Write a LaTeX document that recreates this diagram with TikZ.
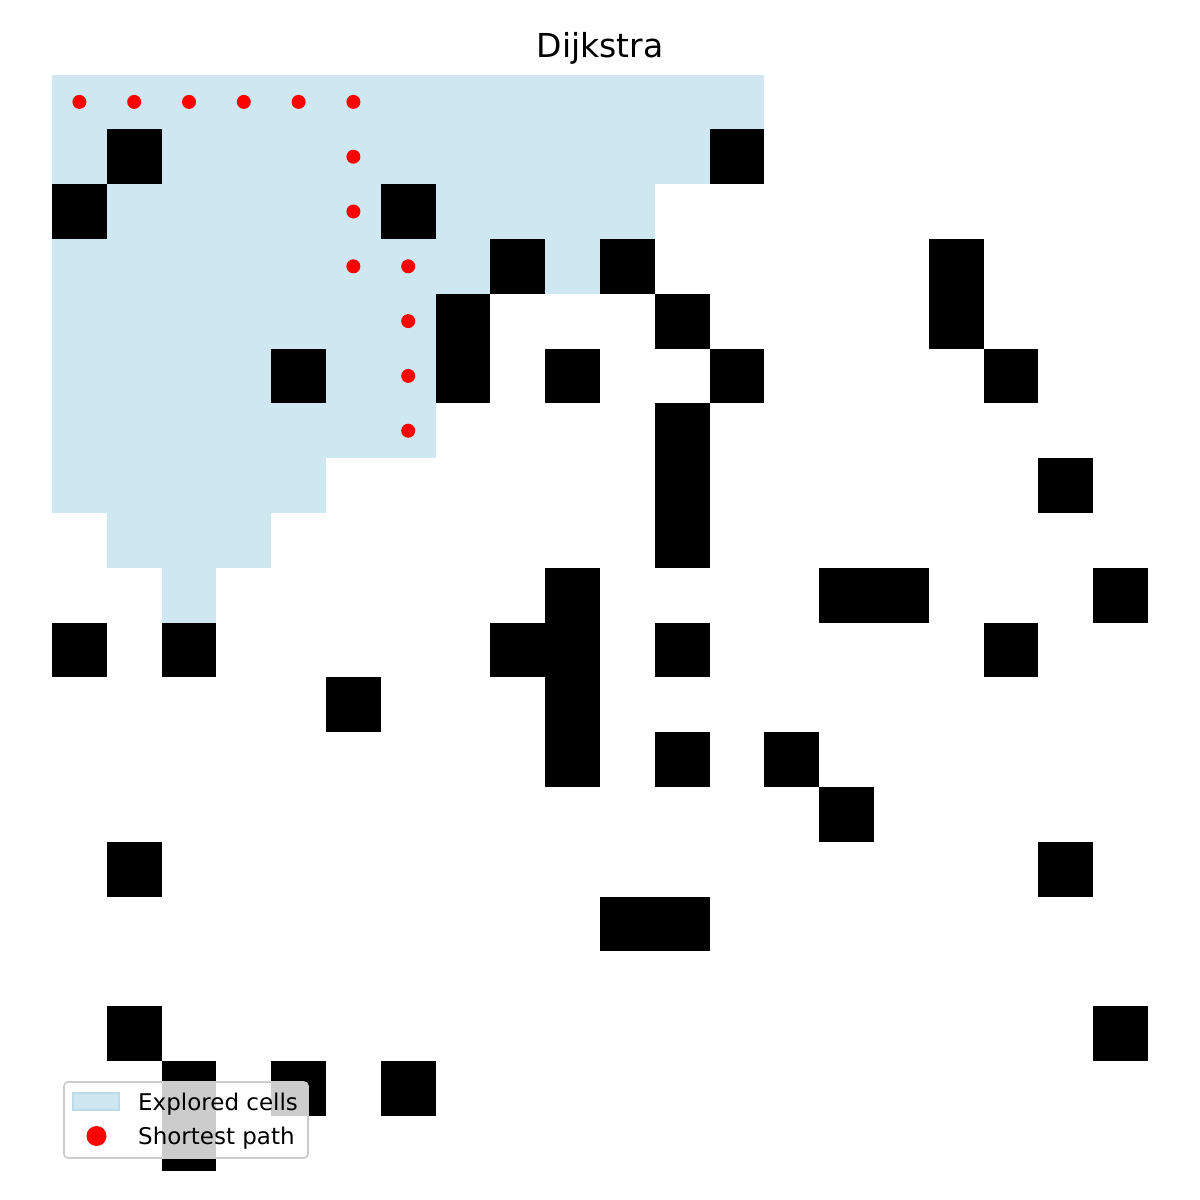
\documentclass[tikz,border=0pt]{standalone}
\usepackage{fontspec}
\setmainfont{DejaVu Sans}
\definecolor{explored}{RGB}{206,231,240}
\definecolor{exploredge}{RGB}{186,219,231}
\definecolor{legedge}{RGB}{204,204,204}
\begin{document}
\begin{tikzpicture}[x=1pt,y=-1pt,
  obst/.style={fill=black},
  expl/.style={fill=explored},
  pathdot/.style={fill=red},
  legtext/.style={font=\fontsize{23}{27}\selectfont, anchor=base west, inner sep=0pt},
  titletext/.style={font=\fontsize{33}{38}\selectfont, anchor=base, inner sep=0pt}]
\useasboundingbox (0,0) rectangle (1200,1200);
\fill[white] (0,0) rectangle (1200,1200);
\def\cs{54.8}
\def\oy{74.5}
% explored cells: row, first col, last col
\foreach \r/\a/\b in {0/0/12,1/0/11,2/1/10,3/0/7,3/9/9,4/0/6,5/0/6,6/0/6,7/0/4,8/1/3,9/2/2}{
  \fill[expl] ({52+\cs*\a},{\oy+\cs*\r}) rectangle ({52+\cs*(\b+1)},{\oy+\cs*(\r+1)});
}
% obstacles
\foreach \r/\c in {1/1,1/12,2/0,2/6,3/8,3/10,3/16,4/7,4/11,4/16,5/4,5/7,5/9,5/12,5/17,
  6/11,7/11,7/18,8/11,9/9,9/14,9/15,9/19,10/0,10/2,10/8,10/9,10/11,10/17,11/5,11/9,
  12/9,12/11,12/13,13/14,14/1,14/18,15/10,15/11,17/1,17/19,18/2,18/4,18/6,19/2}{
  \fill[obst] ({52+\cs*\c},{\oy+\cs*\r}) rectangle +(\cs,\cs);
}
% shortest path
\foreach \r/\c in {0/0,0/1,0/2,0/3,0/4,0/5,1/5,2/5,3/5,3/6,4/6,5/6,6/6}{
  \fill[pathdot] ({52+\cs*(\c+0.5)},{\oy+\cs*(\r+0.5)}) circle (7);
}
% title
\node[titletext] (title) at (600,57) {Dijkstra};
% legend
\draw[legedge, line width=1.6pt, rounded corners=4pt, fill=white, fill opacity=0.8]
  (64,1082) rectangle (308,1158);
\fill[explored, draw=exploredge, line width=1.5pt] (73,1093) rectangle (119,1110);
\fill[red] (96.5,1136) circle (10);
\node[legtext] (l1) at (138,1110) {Explored cells};
\node[legtext] (l2) at (138,1144) {Shortest path};
\end{tikzpicture}
\end{document}
